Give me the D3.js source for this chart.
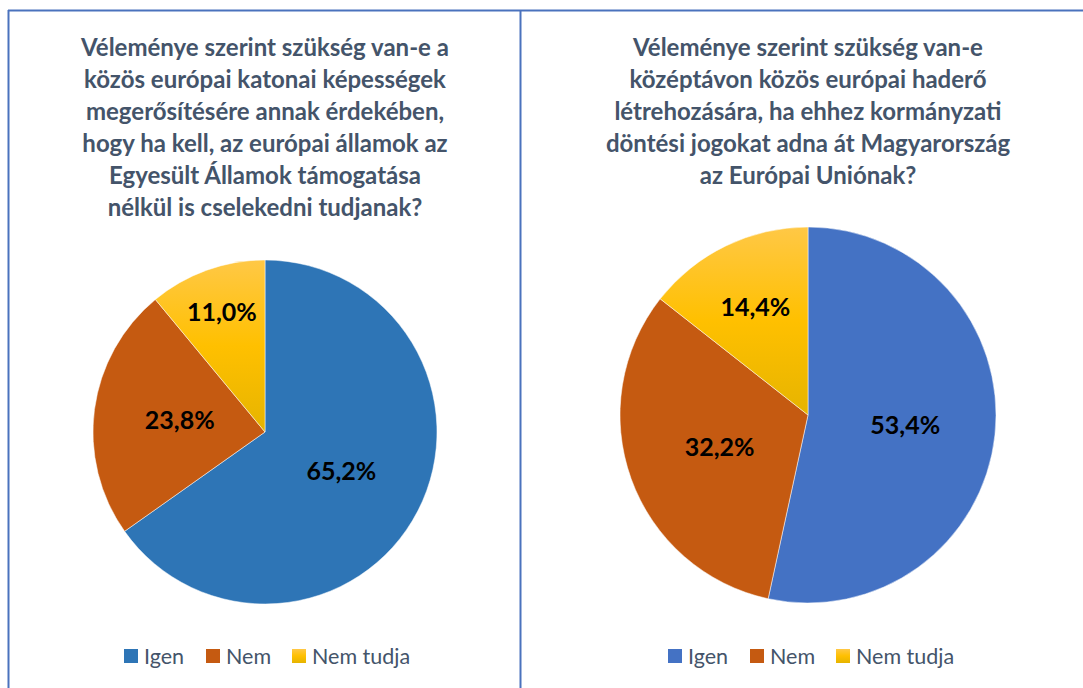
<!DOCTYPE html>
<html>
<head>
<meta charset="utf-8">
<script src="https://cdn.jsdelivr.net/npm/d3@7"></script>
<style>
  body { margin: 0; background: #fff; }
  svg { display: block; }
</style>
</head>
<body>
<script>
// answer categories, shared by both pies
var categories = ["Igen", "Nem", "Nem tudja"];

// left question
var titleLeft = [
  "Véleménye szerint szükség van-e a",
  "közös európai katonai képességek",
  "megerősítésére annak érdekében,",
  "hogy ha kell, az európai államok az",
  "Egyesült Államok támogatása",
  "nélkül is cselekedni tudjanak?"
];
var valuesLeft = [65.2, 23.8, 11.0];

// right question
var titleRight = [
  "Véleménye szerint szükség van-e",
  "középtávon közös európai haderő",
  "létrehozására, ha ehhez kormányzati",
  "döntési jogokat adna át Magyarország",
  "az Európai Uniónak?"
];
var valuesRight = [53.4, 32.2, 14.4];

var width = 1083, height = 688;
var svg = d3.select("body").append("svg").attr("width", width).attr("height", height);

var defs = svg.append("defs");
var grad = defs.append("linearGradient").attr("id", "gold")
  .attr("x1", 0).attr("y1", 0).attr("x2", 0).attr("y2", 1);
grad.append("stop").attr("offset", "0%").attr("stop-color", "#ffc846");
grad.append("stop").attr("offset", "50%").attr("stop-color", "#ffc000");
grad.append("stop").attr("offset", "100%").attr("stop-color", "#e6b400");

// frame
var frameColor = "#4a72bd";
svg.append("line").attr("x1", 8).attr("x2", width).attr("y1", 10.5).attr("y2", 10.5)
  .style("stroke", frameColor).style("stroke-width", 2);
svg.append("line").attr("x1", 8.5).attr("x2", 8.5).attr("y1", 10).attr("y2", height)
  .style("stroke", frameColor).style("stroke-width", 2);
svg.append("line").attr("x1", 520.5).attr("x2", 520.5).attr("y1", 10).attr("y2", height)
  .style("stroke", frameColor).style("stroke-width", 2);

function drawPanel(opts) {
  var g = svg.append("g");
  var colors = d3.scaleOrdinal().domain(categories).range(opts.colors);

  g.append("text")
    .attr("x", opts.cx)
    .attr("y", 56)
    .attr("text-anchor", "middle")
    .style("font-family", "Lato, 'Open Sans', sans-serif")
    .style("font-weight", "bold")
    .style("font-size", "24px")
    .style("fill", "#44546a")
    .selectAll("tspan").data(opts.title).enter().append("tspan")
      .attr("x", opts.cx)
      .attr("dy", function(d, i) { return i === 0 ? 0 : 32; })
      .text(function(d) { return d; });

  var data = categories.map(function(c, i) { return {cat: c, value: opts.values[i]}; });
  var pie = d3.pie().sort(null).value(function(d) { return d.value; });
  var arc = d3.arc().innerRadius(0).outerRadius(opts.r);
  var arcs = pie(data);

  var pg = g.append("g").attr("transform", "translate(" + opts.cx + "," + opts.cy + ")");
  pg.selectAll("path").data(arcs).enter().append("path")
    .attr("d", arc)
    .attr("fill", function(d) { return colors(d.data.cat); })
    .style("stroke", "#fff")
    .style("stroke-width", 0.5);

  pg.selectAll("text").data(arcs).enter().append("text")
    .attr("transform", function(d, i) {
      var a = (d.startAngle + d.endAngle) / 2;
      var rr = opts.r * opts.labelPos[i];
      return "translate(" + (Math.sin(a) * rr) + "," + (-Math.cos(a) * rr) + ")";
    })
    .attr("text-anchor", "middle")
    .attr("dy", "0.35em")
    .style("font-family", "Lato, 'Open Sans', sans-serif")
    .style("font-weight", "bold")
    .style("font-size", "25px")
    .style("fill", "#000")
    .text(function(d) { return d3.format(".1f")(d.data.value).replace(".", ",") + "%"; });

  // legend
  var lg = g.append("g").attr("transform", "translate(0,656)");
  var item = lg.selectAll("g").data(categories).enter().append("g")
    .attr("transform", function(d, i) { return "translate(" + opts.legendX[i] + ",0)"; });
  item.append("rect")
    .attr("x", 0).attr("y", -7).attr("width", 14).attr("height", 14)
    .attr("fill", function(d) { return colors(d); });
  item.append("text")
    .attr("x", 20).attr("dy", "0.35em")
    .style("font-family", "Lato, 'Open Sans', sans-serif")
    .style("font-size", "21.5px")
    .style("fill", "#44546a")
    .text(function(d) { return d; });
}

drawPanel({
  cx: 265, cy: 432, r: 172,
  title: titleLeft, values: valuesLeft,
  colors: ["#2e75b6", "#c55a11", "url(#gold)"],
  labelPos: [0.5, 0.5, 0.74],
  legendX: [124, 206, 292]
});

drawPanel({
  cx: 808, cy: 415, r: 188,
  title: titleRight, values: valuesRight,
  colors: ["#4472c4", "#c55a11", "url(#gold)"],
  labelPos: [0.52, 0.5, 0.64],
  legendX: [668, 750, 836]
});
</script>
</body>
</html>
